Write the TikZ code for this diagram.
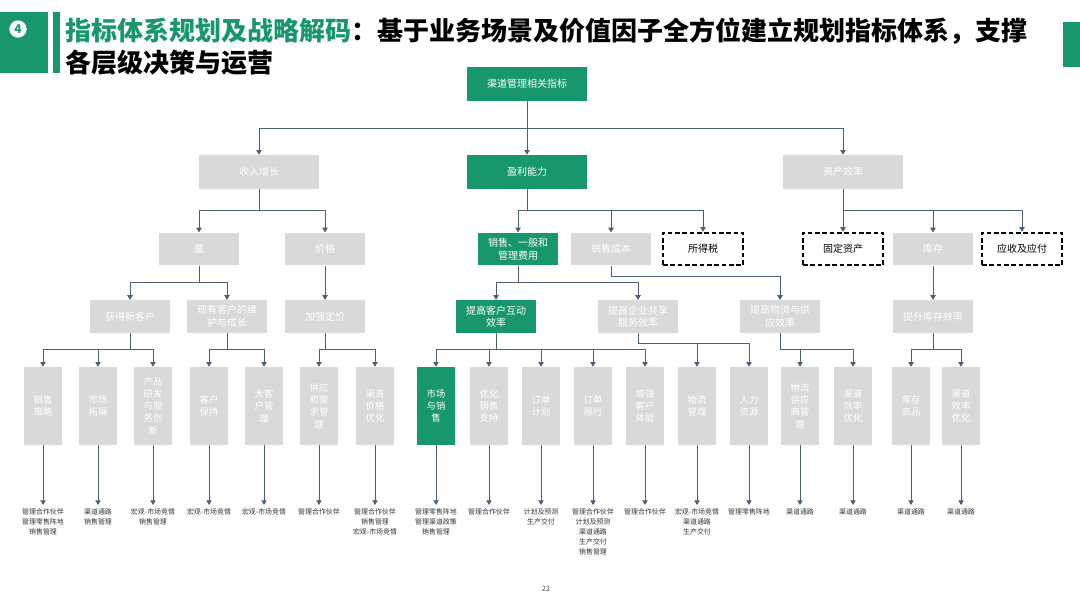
\documentclass[tikz,border=0pt]{standalone}
\usepackage{fontspec}
\setmainfont{Noto Sans CJK SC}
\usepackage{tikz}
\usetikzlibrary{positioning, arrows.meta, calc}
\definecolor{tgreen}{HTML}{17976B}
\definecolor{lgray}{HTML}{D9D9D9}
\definecolor{slate}{HTML}{4A5F78}

\begin{document}
\begin{tikzpicture}[x=0.75pt, y=-0.75pt,
      box/.style={minimum width=60pt, minimum height=24.5pt, inner sep=1pt, align=center, text=white, font=\fontsize{7.5}{9.5}\selectfont},
      wide/.style={box, minimum width=90pt, minimum height=25.5pt},
      hl/.style={fill=tgreen},
      plain/.style={fill=lgray},
      tbd/.style={draw=black, dash pattern=on 3.5pt off 2pt, line width=1.3pt, fill=white, text=black},
      col/.style={minimum width=29pt, minimum height=58.5pt, inner sep=0pt, align=center, text=white, font=\fontsize{7}{9.2}\selectfont},
      note/.style={anchor=north, align=center, inner sep=0pt, outer ysep=3pt, text=black!80, font=\fontsize{5.2}{7.4}\selectfont},
      arr/.style={draw=slate, line width=0.75pt, -{Triangle[width=4pt, length=3.5pt]}}]
      \useasboundingbox (0,0) rectangle (1080,608);
      % header
      \fill[tgreen] (0,12) rectangle (48,73);
      \fill[tgreen] (53,12) rectangle (60,73);
      \fill[tgreen] (1063,22) rectangle (1080,67);
      \node[circle, fill=white, text=tgreen, inner sep=0pt, minimum size=13pt, font=\fontsize{9}{9}\selectfont\bfseries] (num) at (18,29) {4};
      \node[anchor=west, inner sep=0pt, font=\fontsize{19.5}{24}\selectfont\bfseries] (title1) at (65,31) {\textcolor{tgreen}{指标体系规划及战略解码}：基于业务场景及价值因子全方位建立规划指标体系，支撑};
      \node[anchor=west, inner sep=0pt, font=\fontsize{19.5}{24}\selectfont\bfseries] (title2) at (65,63) {各层级决策与运营};
      \node[font=\fontsize{5.5}{6}\selectfont, text=black!70] (page) at (546,589) {22};

      % levels 1-4
      \node[wide, hl] (root) at (527,84) {渠道管理相关指标};
      \node[wide, plain] (grow) at (259,172) {收入增长};
      \node[wide, hl] (profit) at (527,172) {盈利能力};
      \node[wide, plain] (asset) at (843,172) {资产效率};

      \node[box, plain] (vol) at (199,249) {量};
      \node[box, plain] (price) at (325,249) {价格};
      \node[box, hl] (sga) at (518,249) {销售、一般和\\管理费用};
      \node[box, plain] (cost) at (611,249) {销售成本};
      \node[box, tbd] (tax) at (703,249) {所得税};
      \node[box, tbd] (fixed) at (843,249) {固定资产};
      \node[box, plain] (stock) at (933,249) {库存};
      \node[box, tbd] (recv) at (1022,249) {应收及应付};

      \node[box, plain] (newc) at (130,316.5) {获得新客户};
      \node[box, plain] (keepc) at (227,316.5) {现有客户的维\\护与成长};
      \node[box, plain] (pricing) at (325,316.5) {加强定价};
      \node[box, hl] (inter) at (496,316.5) {提高客户互动\\效率};
      \node[box, plain] (share) at (638,316.5) {提高企业共享\\服务效率};
      \node[box, plain] (supply) at (780,316.5) {提高物流与供\\应效率};
      \node[box, plain] (invent) at (933,316.5) {提升库存效率};

      % level 5
      \node[col, plain] (c1) at (43,406) {销售\\策略};
      \node[col, plain] (c2) at (98,406) {市场\\拓展};
      \node[col, plain] (c3) at (153,406) {产品\\研发\\与服\\务创\\新};
      \node[col, plain] (c4) at (209,406) {客户\\保持};
      \node[col, plain] (c5) at (264,406) {大客\\户管\\理};
      \node[col, plain] (c6) at (319,406) {供应\\和需\\求管\\理};
      \node[col, plain] (c7) at (375,406) {渠道\\价格\\优化};
      \node[col, hl] (c8) at (436,406) {市场\\与销\\售};
      \node[col, plain] (c9) at (489,406) {优化\\销售\\支持};
      \node[col, plain] (c10) at (541,406) {订单\\计划};
      \node[col, plain] (c11) at (593,406) {订单\\履行};
      \node[col, plain] (c12) at (645,406) {增强\\客户\\体验};
      \node[col, plain] (c13) at (697,406) {物流\\管理};
      \node[col, plain] (c14) at (749,406) {人力\\资源};
      \node[col, plain] (c15) at (800,406) {物流\\供应\\商管\\理};
      \node[col, plain] (c16) at (853,406) {渠道\\效率\\优化};
      \node[col, plain] (c17) at (911,406) {库存\\商品};
      \node[col, plain] (c18) at (961,406) {渠道\\效率\\优化};

      % data sources
      \node[note] (n1) at (43,505) {管理合作伙伴\\管理零售阵地\\销售管理};
      \node[note] (n2) at (98,505) {渠道通路\\销售管理};
      \node[note] (n3) at (153,505) {宏观-市场竞情\\销售管理};
      \node[note] (n4) at (209,505) {宏观-市场竞情};
      \node[note] (n5) at (264,505) {宏观-市场竞情};
      \node[note] (n6) at (319,505) {管理合作伙伴};
      \node[note] (n7) at (375,505) {管理合作伙伴\\销售管理\\宏观-市场竞情};
      \node[note] (n8) at (436,505) {管理零售阵地\\管理渠道政策\\销售管理};
      \node[note] (n9) at (489,505) {管理合作伙伴};
      \node[note] (n10) at (541,505) {计划及预测\\生产交付};
      \node[note] (n11) at (593,505) {管理合作伙伴\\计划及预测\\渠道通路\\生产交付\\销售管理};
      \node[note] (n12) at (645,505) {管理合作伙伴};
      \node[note] (n13) at (697,505) {宏观-市场竞情\\渠道通路\\生产交付};
      \node[note] (n14) at (749,505) {管理零售阵地};
      \node[note] (n15) at (800,505) {渠道通路};
      \node[note] (n16) at (853,505) {渠道通路};
      \node[note] (n17) at (911,505) {渠道通路};
      \node[note] (n18) at (961,505) {渠道通路};

      % connectors
      \draw[arr](root.south)--++(0,27)-|(grow.north);\draw[arr](root.south)--(profit.north);\draw[arr](root.south)--++(0,27)-|(asset.north);
      \draw[arr](grow.south)--++(0,21)-|(vol.north);\draw[arr](grow.south)--++(0,21)-|(price.north);
      \draw[arr](profit.south)--++(0,21)-|(sga.north);\draw[arr](profit.south)--++(0,21)-|(cost.north);\draw[arr](profit.south)--++(0,21)-|(tax.north);
      \draw[arr](asset.south)--++(0,21)-|(fixed.north);\draw[arr](asset.south)--++(0,21)-|(stock.north);\draw[arr](asset.south)--++(0,21)-|(recv.north);
      \draw[arr](vol.south)--++(0,17)-|(newc.north);\draw[arr](vol.south)--++(0,17)-|(keepc.north);
      \draw[arr](price.south)--(pricing.north);
      \draw[arr](sga.south)--++(0,17)-|(inter.north);\draw[arr](sga.south)--++(0,17)-|(share.north);
      \draw[arr](cost.south)--++(0,11)-|(supply.north);
      \draw[arr](stock.south)--(invent.north);
      \draw[arr](newc.south)--++(0,16)-|(c1.north);\draw[arr](newc.south)--++(0,16)-|(c2.north);\draw[arr](newc.south)--++(0,16)-|(c3.north);
      \draw[arr](keepc.south)--++(0,16)-|(c4.north);\draw[arr](keepc.south)--++(0,16)-|(c5.north);
      \draw[arr](pricing.south)--++(0,16)-|(c6.north);\draw[arr](pricing.south)--++(0,16)-|(c7.north);
      \draw[arr](inter.south)--++(0,16)-|(c8.north);\draw[arr](inter.south)--++(0,16)-|(c9.north);\draw[arr](inter.south)--++(0,16)-|(c10.north);
      \draw[arr](inter.south)--++(0,16)-|(c11.north);\draw[arr](inter.south)--++(0,16)-|(c12.north);
      \draw[arr](share.south)--++(0,10)-|(c13.north);\draw[arr](share.south)--++(0,10)-|(c14.north);
      \draw[arr](supply.south)--++(0,16)-|(c15.north);\draw[arr](supply.south)--++(0,16)-|(c16.north);
      \draw[arr](invent.south)--++(0,16)-|(c17.north);\draw[arr](invent.south)--++(0,16)-|(c18.north);
      \draw[arr](c1)--(n1);\draw[arr](c2)--(n2);\draw[arr](c3)--(n3);\draw[arr](c4)--(n4);\draw[arr](c5)--(n5);\draw[arr](c6)--(n6);
      \draw[arr](c7)--(n7);\draw[arr](c8)--(n8);\draw[arr](c9)--(n9);\draw[arr](c10)--(n10);\draw[arr](c11)--(n11);\draw[arr](c12)--(n12);
      \draw[arr](c13)--(n13);\draw[arr](c14)--(n14);\draw[arr](c15)--(n15);\draw[arr](c16)--(n16);\draw[arr](c17)--(n17);\draw[arr](c18)--(n18);
    \end{tikzpicture}
\end{document}
